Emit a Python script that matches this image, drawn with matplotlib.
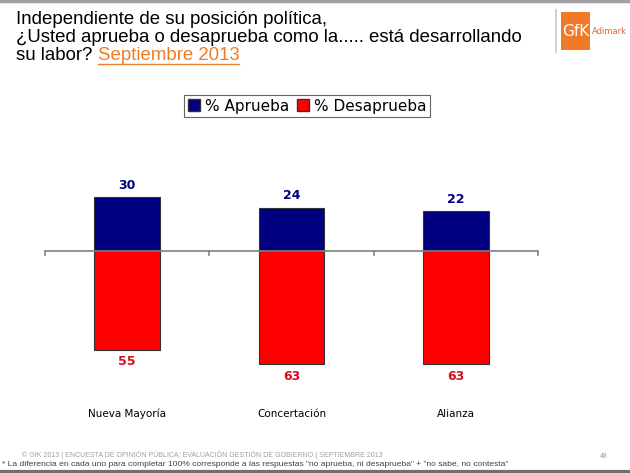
import matplotlib
matplotlib.use("Agg")
import matplotlib.pyplot as plt
from matplotlib.patches import Rectangle, Patch
from matplotlib.lines import Line2D
import numpy as np

categories = ["Nueva Mayoría", "Concertación", "Alianza"]
aprueba = [30, 24, 22]
desaprueba = [55, 63, 63]
legend_labels = ["% Aprueba", "% Desaprueba"]

W, H = 630, 473
fig = plt.figure(figsize=(W / 100, H / 100), dpi=100)
fig.patch.set_facecolor("white")

def fx(px):
    return px / W

def fy(py):
    return 1 - py / H

# frame lines
fig.add_artist(Line2D([0, 1], [fy(1), fy(1)], color="#a0a0a0", lw=2.5))
fig.add_artist(Line2D([0, 1], [fy(471.5), fy(471.5)], color="#707070", lw=3))

# Title
title_font = dict(family="Liberation Sans", fontsize=13.4, color="black")
fig.text(fx(16), fy(20), "Independiente de su posición política,", va="center", ha="left", **title_font)
fig.text(fx(16), fy(38), "¿Usted aprueba o desaprueba como la..... está desarrollando", va="center", ha="left", **title_font)
t1 = fig.text(fx(16), fy(56), "su labor? ", va="center", ha="left", **title_font)
fig.canvas.draw()
r = fig.canvas.get_renderer()
bb = t1.get_window_extent(r)
t2 = fig.text(bb.x1 / W, fy(56), "Septiembre 2013", va="center", ha="left",
              family="Liberation Sans", fontsize=13.4, color="#F07A28")
bb2 = t2.get_window_extent(r)
fig.add_artist(Line2D([bb2.x0 / W, bb2.x1 / W], [fy(64.5), fy(64.5)], color="#F07A28", lw=1))

# Logo
fig.add_artist(Line2D([fx(556), fx(556)], [fy(10), fy(52)], color="#c8c8c8", lw=1.2))
fig.add_artist(Rectangle((fx(561), fy(50)), fx(29), 38 / H, transform=fig.transFigure,
                         facecolor="#F07A28", edgecolor="none"))
fig.text(fx(575.5), fy(31), "GfK", color="white", fontsize=11, ha="center", va="center",
         family="Liberation Sans Narrow")
fig.text(fx(592), fy(31), "Adimark", color="#E8661A", fontsize=6, ha="left", va="center",
         family="Liberation Sans Narrow")

# Axes
top_px, bot_px = 170, 380
zero_px = 251
ppu = 1.8
ax = fig.add_axes([fx(45), fy(bot_px), fx(538) - fx(45), (bot_px - top_px) / H])
ax.set_xlim(-0.5, 2.5)
ax.set_ylim(-(bot_px - zero_px) / ppu, (zero_px - top_px) / ppu)
ax.axis("off")

x = np.arange(len(categories))
bw = 0.40
ax.bar(x, aprueba, width=bw, color="#000080", edgecolor="#333333", linewidth=0.8, zorder=2)
ax.bar(x, [-v for v in desaprueba], width=bw, color="#FF0000", edgecolor="#333333", linewidth=0.8, zorder=2)
ax.axhline(0, color="#808080", lw=1.2, zorder=3)
for tx in [-0.5, 0.5, 1.5, 2.5]:
    ax.plot([tx, tx], [0, -2.2], color="#808080", lw=1.2, zorder=3, clip_on=False)

for i in range(len(categories)):
    ax.text(x[i], aprueba[i] + 3, str(aprueba[i]), ha="center", va="bottom",
            color="#000080", fontsize=9, fontweight="bold", family="DejaVu Sans")
    ax.text(x[i], -desaprueba[i] - 3, str(desaprueba[i]), ha="center", va="top",
            color="#D01020", fontsize=9, fontweight="bold", family="DejaVu Sans")
    fig.text(fx(45 + (i + 0.5) * 493 / 3), fy(414), categories[i], ha="center", va="center",
             fontsize=7.5, family="DejaVu Sans", color="black")

# Legend
handles = [Patch(facecolor="#000080", edgecolor="#333333"),
           Patch(facecolor="#FF0000", edgecolor="#333333")]
leg = fig.legend(handles, legend_labels, loc="center", bbox_to_anchor=(fx(307), fy(106)),
                 ncol=2, frameon=True, fancybox=False, handlelength=0.8,
                 handleheight=0.8, handletextpad=0.3, columnspacing=0.5, borderpad=0.25,
                 prop={"family": "DejaVu Sans", "size": 11})
leg.get_frame().set_edgecolor("#404040")
leg.get_frame().set_linewidth(0.8)

# Footer
fig.text(fx(22), fy(455), "© GfK 2013 | ENCUESTA DE OPINIÓN PÚBLICA: EVALUACIÓN GESTIÓN DE GOBIERNO | SEPTIEMBRE 2013",
         fontsize=5, color="#a0a0a0", ha="left", va="center", family="Liberation Sans")
fig.text(fx(2), fy(464.5), "* La diferencia en cada uno para completar 100% corresponde a las respuestas \"no aprueba, ni desaprueba\" + \"no sabe, no contesta\"",
         fontsize=6.1, color="#404040", ha="left", va="center", family="Liberation Sans")
fig.text(fx(604), fy(456), "48", fontsize=5, color="#a0a0a0", ha="center", va="center", family="Liberation Sans")

fig.savefig("out.png", dpi=100)
